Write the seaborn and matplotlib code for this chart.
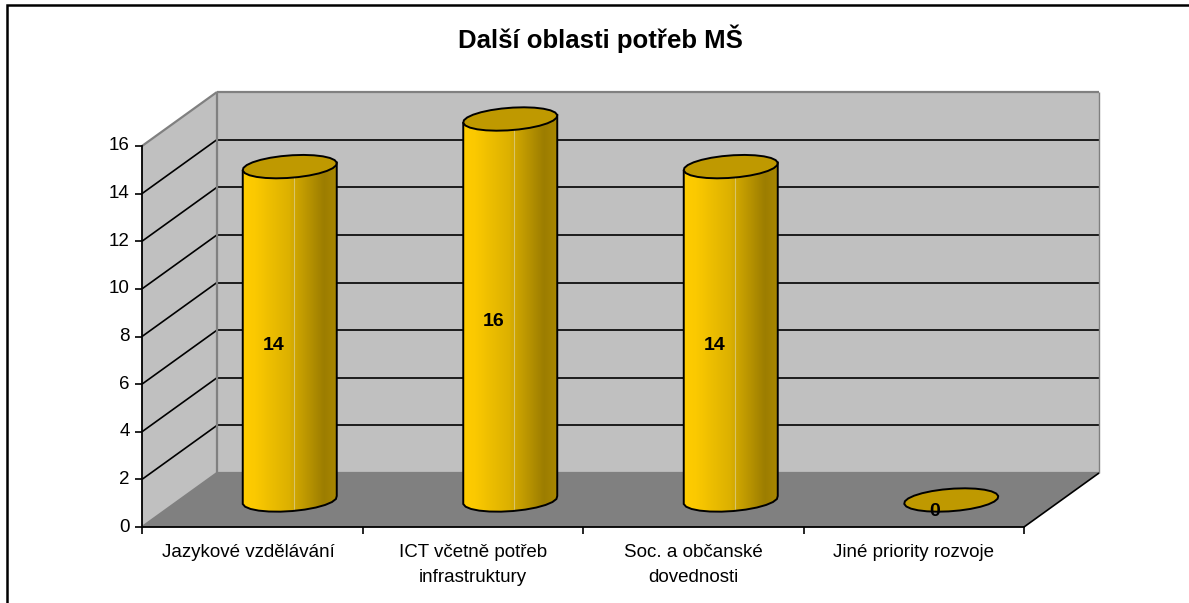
import matplotlib
matplotlib.use('Agg')
import matplotlib.pyplot as plt
import numpy as np
import seaborn as sns
from matplotlib.colors import LinearSegmentedColormap
from matplotlib.lines import Line2D
from matplotlib.path import Path
from matplotlib.patches import PathPatch, Polygon
from matplotlib.transforms import Affine2D, IdentityTransform

# data
categories = ['Jazykové vzdělávání', 'ICT včetně potřeb\ninfrastruktury',
              'Soc. a občanské\ndovednosti', 'Jiné priority rozvoje']
values = [14, 16, 14, 0]
y_ticks = [0, 2, 4, 6, 8, 10, 12, 14, 16]
title = 'Další oblasti potřeb MŠ'

sns.set_theme(style='white')
plt.rcParams['font.family'] = ['Liberation Sans', 'DejaVu Sans']

WALL = '#C0C0C0'
FLOOR = '#808080'
EDGE = '#808080'
TOP = '#BF9900'
DEPTH = np.array([75.0, 54.0])  # oblique shift of the back wall, pixels

fig = plt.figure(figsize=(11.89, 6.03), dpi=100, facecolor='white')
ax = fig.add_axes([142 / 1189, 76 / 603, 882 / 1189, 381 / 603], facecolor='none')
ax.set_xlim(-0.5, 3.5)
ax.set_ylim(0, 16)
px = IdentityTransform()


def pt(x, y, d=0.0):
    """Display position of a data point, pushed d of the way to the back wall."""
    return ax.transData.transform((x, y)) + d * DEPTH


def ellipse(x, y, start, stop, n=13):
    c = pt(x, y, 0.5)
    t = np.linspace(start, stop, n)
    xs = c[0] + 47 * np.cos(t) - 3 * np.sin(t)
    ys = c[1] + 4 * np.cos(t) + 11 * np.sin(t)
    return np.column_stack([xs, ys])


def wall(points, color, zorder=0.5):
    ax.add_patch(Polygon(points, closed=True, facecolor=color, edgecolor='none',
                         transform=px, clip_on=False, zorder=zorder))


def seg(a, b, color='black', lw=1.2, zorder=1):
    ax.plot([a[0], b[0]], [a[1], b[1]], color=color, lw=lw, transform=px,
            clip_on=False, zorder=zorder, solid_capstyle='butt')


# walls and floor
wall([pt(-0.5, 0, 1), pt(3.5, 0, 1), pt(3.5, 16, 1), pt(-0.5, 16, 1)], WALL)
wall([pt(-0.5, 0), pt(-0.5, 16), pt(-0.5, 16, 1), pt(-0.5, 0, 1)], WALL)
wall([pt(-0.5, 0), pt(3.5, 0), pt(3.5, 0, 1), pt(-0.5, 0, 1)], FLOOR)

for v in y_ticks[1:-1]:
    seg(pt(-0.5, v), pt(-0.5, v, 1))
    seg(pt(-0.5, v, 1), pt(3.5, v, 1))

seg(pt(-0.5, 16), pt(-0.5, 16, 1), EDGE, 1.6)
seg(pt(-0.5, 16, 1), pt(3.5, 16, 1), EDGE, 1.6)
seg(pt(-0.5, 0, 1), pt(-0.5, 16, 1), EDGE, 1.6)
seg(pt(3.5, 0, 1), pt(3.5, 16, 1), EDGE, 1.0)
seg(pt(-0.5, 0, 1), pt(3.5, 0, 1), EDGE, 1.6)
seg(pt(-0.5, 0), pt(-0.5, 0, 1), EDGE, 1.6)
seg(pt(3.5, 0), pt(3.5, 0, 1))

# columns: seaborn places the bars, the cylinder look goes on top
sns.barplot(x=categories, y=values, ax=ax, color='#FFCC00', width=94 / 220.5,
            saturation=1, zorder=2)
ax.set_xlim(-0.5, 3.5)
ax.set_ylim(0, 16)

shade = LinearSegmentedColormap.from_list(
    'column', [(0, '#FFCC00'), (0.12, '#FBC900'), (0.5, '#DBB000'), (0.56, '#CFA600'),
               (0.87, '#9C7D00'), (1, '#A88700')])
mid = ax.transData + Affine2D().translate(*(0.5 * DEPTH))

for i, (bar, v) in enumerate(zip(ax.containers[0], values)):
    left, right = bar.get_x(), bar.get_x() + bar.get_width()
    bottom_arc = ellipse(i, 0, np.pi, 2 * np.pi)
    top_arc = ellipse(i, v, 0, np.pi, 2)
    body = Path(np.vstack([bottom_arc, top_arc, bottom_arc[:1]]), closed=True)
    bar.set_transform(mid)
    bar.set_clip_path(body, px)
    bar.set_clip_box(fig.bbox)
    if v > 0:
        # the shading runs a little below the base so the rounded bottom is filled
        im = ax.imshow(np.linspace(0, 1, 64)[None, :], cmap=shade, aspect='auto',
                       extent=(left, right, -1, v), transform=mid, zorder=2.1,
                       interpolation='bilinear')
        im.set_clip_path(body, px)
        im.set_clip_box(fig.bbox)
        c = pt(i, 0, 0.5)
        line = ax.plot([c[0] + 4, c[0] + 4], [c[1] - 12, pt(i, v, 0.5)[1]], color='#D8C468',
                       lw=0.8, transform=px, zorder=2.2)[0]
        line.set_clip_path(body, px)
        line.set_clip_box(fig.bbox)
        ax.add_patch(PathPatch(body, facecolor='none', edgecolor='black', lw=1.4,
                               transform=px, clip_on=False, zorder=2.3))
    ring = ellipse(i, v, 0, 2 * np.pi, 27)
    ax.add_patch(Polygon(ring, closed=True, facecolor=TOP, edgecolor='black', lw=1.4,
                         transform=px, clip_on=False, zorder=2.4, joinstyle='round'))
    ax.annotate(str(v), xy=(i, v / 2), xytext=(21, 15), textcoords='offset pixels',
                ha='center', va='center', fontsize=14, fontweight='bold', color='black',
                zorder=5, annotation_clip=False)

# axes
for name in ['top', 'right']:
    ax.spines[name].set_visible(False)
for name in ['left', 'bottom']:
    ax.spines[name].set_color('black')
    ax.spines[name].set_linewidth(1.3)
    ax.spines[name].set_zorder(3)

ax.set_yticks(y_ticks)
ax.set_yticklabels([str(v) for v in y_ticks])
ax.tick_params(axis='y', which='major', left=True, length=5, width=1.2, color='black',
               pad=4, labelsize=13.5, labelcolor='black')
ax.set_xticks([-0.5, 0.5, 1.5, 2.5, 3.5])
ax.set_xticklabels([])
ax.set_xticks([0, 1, 2, 3], minor=True)
ax.set_xticklabels(categories, minor=True, linespacing=1.62)
ax.tick_params(axis='x', which='major', bottom=True, length=5, width=1.2, color='black')
ax.tick_params(axis='x', which='minor', bottom=False, length=0, pad=12, labelsize=13.5,
               labelcolor='black')
ax.set_xlabel('')
ax.set_ylabel('')

for label in ax.get_yticklabels():
    label.set_transform(label.get_transform() + Affine2D().translate(0, 2))
first = ax.get_xticklabels(minor=True)[0]
first.set_transform(first.get_transform() + Affine2D().translate(-4, 0))

fig.text(600 / 1189, 1 - 39 / 603, title, ha='center', va='center', fontsize=18.5,
         fontweight='bold', color='black')

# outer chart frame, open on the right and cut by the picture edge
fig.add_artist(Line2D([7, 7, 1189], [0, 598, 598], color='black', lw=1.8,
                      transform=px, solid_joinstyle='miter'))

fig.savefig('out.png', dpi=100)
print('Done')
